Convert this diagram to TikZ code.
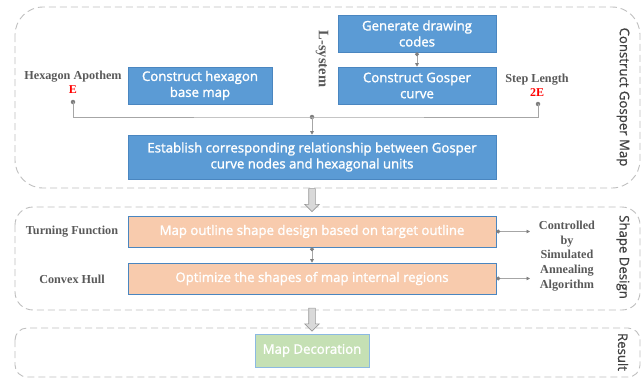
\documentclass[tikz,border=0pt]{standalone}
\usepackage{fontspec}
\setmainfont{Liberation Serif}
\newfontfamily\boxfont[FakeBold=1.6]{Open Sans}
\newfontfamily\sidefont[FakeBold=0.8]{Open Sans}
\usetikzlibrary{arrows.meta,shapes.arrows}

\definecolor{bluefill}{HTML}{5B9BD5}
\definecolor{blueedge}{HTML}{4A86C0}
\definecolor{orangefill}{HTML}{F8CBAD}
\definecolor{greenfill}{HTML}{C5E0B4}
\definecolor{panelline}{HTML}{BFBFBF}
\definecolor{wire}{HTML}{A6A6A6}
\definecolor{dotcol}{HTML}{7F7F7F}
\definecolor{labelgray}{HTML}{595959}
\definecolor{sidegray}{HTML}{404040}

\tikzset{
  panel/.style={draw=panelline, line width=0.9pt, dash pattern=on 7pt off 4pt},
  procbox/.style={draw=blueedge, line width=0.6pt, text=white, align=center,
    font=\boxfont\fontsize{13.2}{16}\selectfont, inner sep=0pt},
  bluebox/.style={procbox, fill=bluefill},
  orangebox/.style={procbox, fill=orangefill},
  greenbox/.style={procbox, fill=greenfill, draw=bluefill!70},
  sidelabel/.style={rotate=-90, text=sidegray, font=\sidefont\fontsize{13.2}{15}\selectfont},
  notelabel/.style={text=labelgray, font=\bfseries\fontsize{12.2}{14.7}\selectfont, align=center, inner sep=0pt},
  redlabel/.style={text=red, font=\bfseries\fontsize{12}{13}\selectfont, inner sep=0pt},
  wireline/.style={draw=wire, line width=0.7pt},
  flow/.style={wireline, {Circle[length=4pt,fill=dotcol,color=dotcol]}-{Triangle[length=3.5pt,width=3.5pt,fill=dotcol,color=dotcol]}},
  plainarrow/.style={wireline, -{Triangle[length=3.5pt,width=3.5pt,fill=dotcol,color=dotcol]}},
  dot/.style={circle, fill=dotcol, inner sep=0pt, minimum size=4.5pt},
  bigarrow/.style={single arrow, draw=dotcol!80, fill=panelline!60, line width=0.6pt,
    shape border rotate=270, inner sep=3pt, single arrow head extend=4pt,
    minimum height=23pt}
}

\begin{document}
\begin{tikzpicture}[x=1pt,y=-1pt]
\useasboundingbox (0,0) rectangle (644,378);

% dashed stage panels
\draw[panel, rounded corners=28pt] (15,7) rectangle (640,188);
\draw[panel, rounded corners=18pt] (15,207) rectangle (640,310);
\draw[panel, rounded corners=12pt] (15,328) rectangle (640,377);

% stage titles
\node[sidelabel] (t1) at (623,97) {Construct Gosper Map};
\node[sidelabel] (t2) at (623,257) {Shape Design};
\node[sidelabel] (t3) at (623,352) {Result};

% stage 1: Gosper map
\node[bluebox, minimum width=158pt, minimum height=37pt] (gen) at (417,33.5) {Generate drawing\\codes};
\node[bluebox, minimum width=158pt, minimum height=37pt] (gosp) at (417,85.5) {Construct Gosper\\curve};
\node[bluebox, minimum width=144pt, minimum height=37pt] (hex) at (200,85.5) {Construct hexagon\\base map};
\node[bluebox, minimum width=368pt, minimum height=44pt] (est) at (312,157)
  {Establish corresponding relationship between Gosper\\curve nodes and hexagonal units};

\node[notelabel, rotate=-90, font=\bfseries\fontsize{14.5}{16}\selectfont] (lsys) at (322,59) {L-system};

\node[notelabel] (apo) at (73,77) {Hexagon Apothem};
\node[redlabel] (e1) at (73,90) {E};
\node[notelabel] (step) at (537,80) {Step Length};
\node[redlabel] (e2) at (537,93) {2E};

\node[dot] (apdot) at (73,102) {};
\node[dot] (stdot) at (538,104) {};
\node[dot] (junc) at (312,117) {};
\draw[wireline] (apdot.center) |- (junc.center) -| (stdot.center);
\draw[plainarrow] (junc.center) -- (est.north);
\draw[flow] (gen.south) -- (gosp.north);

% transitions between stages
\node[bigarrow] (down1) at (312,198.5) {};
\node[bigarrow] (down2) at (312,318) {};

% stage 2: shape design
\node[orangebox, minimum width=368pt, minimum height=31pt] (outl) at (312,231.5) {Map outline shape design based on target outline};
\node[orangebox, minimum width=368pt, minimum height=31pt] (opt) at (312,278.5) {Optimize the shapes of map internal regions};
\draw[flow] (outl.south) -- (opt.north);

\node[notelabel] (turn) at (72,232) {Turning Function};
\node[notelabel] (hull) at (72,279) {Convex Hull};

\node[notelabel] (sa) at (567,256) {Controlled\\by\\Simulated\\Annealing\\Algorithm};
\coordinate (sa1) at (530,231.5);
\coordinate (sa2) at (530,278.5);
\draw[flow] (outl.east) -- (sa1);
\draw[flow] (opt.east) -- (sa2);

% stage 3: result
\node[greenbox, minimum width=114pt, minimum height=33pt] (deco) at (312,350.5) {Map Decoration};

\end{tikzpicture}
\end{document}
